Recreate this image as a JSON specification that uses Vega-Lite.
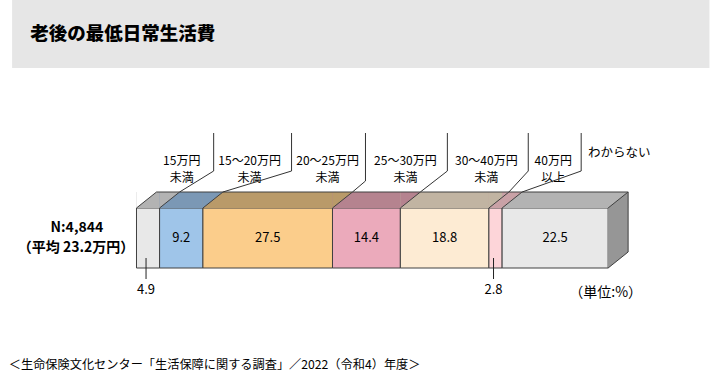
{
  "$schema": "https://vega.github.io/schema/vega-lite/v6.json",
  "width": 710,
  "height": 382,
  "autosize": {"type": "fit", "contains": "padding"},
  "padding": 0,
  "background": "white",
  "config": {
    "view": {"stroke": null},
    "axis": {"disable": true},
    "legend": {"disable": true},
    "text": {"font": "Noto Sans CJK JP", "color": "#000000"}
  },
  "data": {
    "values": [
      {"order": 1, "category": "15万円未満", "label": "15万円\n未満", "value": 4.9},
      {"order": 2, "category": "15～20万円未満", "label": "15～20万円\n未満", "value": 9.2},
      {"order": 3, "category": "20～25万円未満", "label": "20～25万円\n未満", "value": 27.5},
      {"order": 4, "category": "25～30万円未満", "label": "25～30万円\n未満", "value": 14.4},
      {"order": 5, "category": "30～40万円未満", "label": "30～40万円\n未満", "value": 18.8},
      {"order": 6, "category": "40万円以上", "label": "40万円\n以上", "value": 2.8},
      {"order": 7, "category": "わからない", "label": "わからない", "value": 22.5}
    ]
  },
  "transform": [
    {"stack": "value", "groupby": [], "sort": [{"field": "order", "order": "ascending"}], "as": ["start", "end"]}
  ],
  "layer": [
    {
      "transform": [{"filter": "datum.order == 1"}],
      "mark": {"type": "rect", "color": "#e6e6e6"},
      "encoding": {
        "x": {"datum": -26.4, "type": "quantitative", "scale": {"domain": [-28.97, 121.51], "nice": false, "zero": false}, "axis": null},
        "x2": {"datum": 121.6},
        "y": {"datum": 0, "type": "quantitative", "scale": {"domain": [0, 382], "reverse": true, "nice": false, "zero": false}, "axis": null},
        "y2": {"datum": 68}
      }
    },
    {
      "transform": [{"filter": "datum.order == 1"}],
      "mark": {"type": "text", "align": "left", "baseline": "middle", "fontSize": 18.5, "fontWeight": 900, "color": "#000000"},
      "encoding": {
        "x": {"datum": -22.55, "type": "quantitative"},
        "y": {"datum": 34, "type": "quantitative"},
        "text": {"value": "老後の最低日常生活費"}
      }
    },
    {
      "mark": {"type": "rect", "stroke": "#404040", "strokeWidth": 1},
      "encoding": {
        "x": {"field": "start", "type": "quantitative"},
        "x2": {"field": "end"},
        "y": {"datum": 208, "type": "quantitative"},
        "y2": {"datum": 268},
        "color": {
          "field": "category", "type": "nominal", "legend": null,
          "scale": {
            "domain": ["15万円未満", "15～20万円未満", "20～25万円未満", "25～30万円未満", "30～40万円未満", "40万円以上", "わからない"],
            "range": ["#e8e8e8", "#9fc5e9", "#fbcd8b", "#ebaabb", "#fdebd3", "#fdd5d9", "#e8e8e8"]
          }
        }
      }
    },
    {
      "mark": {"type": "rect", "x2Offset": 20},
      "encoding": {
        "x": {"field": "start", "type": "quantitative"},
        "x2": {"field": "end"},
        "y": {"datum": 192, "type": "quantitative"},
        "y2": {"datum": 208},
        "fill": {
          "field": "category", "type": "nominal", "legend": null,
          "scale": {
            "domain": ["15万円未満", "15～20万円未満", "20～25万円未満", "25～30万円未満", "30～40万円未満", "40万円以上", "わからない"],
            "range": ["#b3b3b3", "#7b98b5", "#b99a69", "#b5838f", "#c1b4a2", "#c9a1a6", "#b3b3b3"]
          }
        }
      }
    },
    {
      "transform": [{"filter": "datum.order < 7"}],
      "mark": {"type": "point", "shape": "M0,0L2,0L0,1.6Z", "size": 400, "filled": true, "opacity": 1, "strokeWidth": 0},
      "encoding": {
        "x": {"field": "end", "type": "quantitative"},
        "y": {"datum": 192, "type": "quantitative"},
        "fill": {"field": "category", "type": "nominal", "legend": null}
      }
    },
    {
      "transform": [{"filter": "datum.order == 1"}],
      "mark": {"type": "point", "shape": "M0,0L2,0L0,1.6Z", "size": 400, "filled": true, "opacity": 1, "strokeWidth": 0, "fill": "#ffffff"},
      "encoding": {
        "x": {"field": "start", "type": "quantitative"},
        "y": {"datum": 192, "type": "quantitative"}
      }
    },
    {
      "transform": [{"filter": "datum.order == 7"}],
      "layer": [
        {
          "mark": {"type": "rect", "x2Offset": 20, "fill": "#969696"},
          "encoding": {
            "x": {"field": "end", "type": "quantitative"},
            "x2": {"field": "end"},
            "y": {"datum": 208, "type": "quantitative"},
            "y2": {"datum": 252}
          }
        },
        {
          "mark": {"type": "point", "shape": "M2,0L2,1.6L0,1.6Z", "size": 400, "filled": true, "opacity": 1, "strokeWidth": 0, "fill": "#969696"},
          "encoding": {
            "x": {"field": "end", "type": "quantitative"},
            "y": {"datum": 192, "type": "quantitative"}
          }
        },
        {
          "mark": {"type": "point", "shape": "M0,0L2,0L0,1.6Z", "size": 400, "filled": true, "opacity": 1, "strokeWidth": 0, "fill": "#969696"},
          "encoding": {
            "x": {"field": "end", "type": "quantitative"},
            "y": {"datum": 252, "type": "quantitative"}
          }
        },
        {
          "mark": {"type": "rule", "x2Offset": 20, "color": "#404040", "strokeWidth": 1},
          "encoding": {
            "x": {"field": "end", "type": "quantitative"},
            "x2": {"field": "end"},
            "y": {"datum": 208, "type": "quantitative"},
            "y2": {"datum": 192}
          }
        },
        {
          "mark": {"type": "rule", "xOffset": 20, "color": "#404040", "strokeWidth": 1},
          "encoding": {
            "x": {"field": "end", "type": "quantitative"},
            "y": {"datum": 192, "type": "quantitative"},
            "y2": {"datum": 252}
          }
        },
        {
          "mark": {"type": "rule", "x2Offset": 20, "color": "#404040", "strokeWidth": 1},
          "encoding": {
            "x": {"field": "end", "type": "quantitative"},
            "x2": {"field": "end"},
            "y": {"datum": 268, "type": "quantitative"},
            "y2": {"datum": 252}
          }
        }
      ]
    },
    {
      "mark": {"type": "rule", "xOffset": 20, "x2Offset": 20, "color": "#404040", "strokeWidth": 1},
      "encoding": {
        "x": {"field": "start", "type": "quantitative"},
        "x2": {"field": "end"},
        "y": {"datum": 192, "type": "quantitative"}
      }
    },
    {
      "mark": {"type": "rule", "x2Offset": 20, "color": "#404040", "strokeWidth": 1},
      "encoding": {
        "x": {"field": "start", "type": "quantitative"},
        "x2": {"field": "start"},
        "y": {"datum": 208, "type": "quantitative"},
        "y2": {"datum": 192}
      }
    },
    {
      "mark": {"type": "text", "align": "center", "baseline": "middle", "fontSize": 13},
      "encoding": {
        "x": {"field": "value", "type": "quantitative", "stack": "zero", "bandPosition": 0.5},
        "order": {"field": "order", "type": "quantitative"},
        "detail": {"field": "category", "type": "nominal"},
        "y": {"datum": 238, "type": "quantitative"},
        "text": {"field": "value", "type": "quantitative", "format": ".1f", "condition": {"test": "datum.value < 5", "value": ""}}
      }
    },
    {
      "mark": {"type": "text", "align": "center", "baseline": "middle", "fontSize": 13, "dx": -2},
      "encoding": {
        "x": {"field": "value", "type": "quantitative", "stack": "zero", "bandPosition": 0.5},
        "order": {"field": "order", "type": "quantitative"},
        "detail": {"field": "category", "type": "nominal"},
        "y": {"datum": 290, "type": "quantitative"},
        "text": {"field": "value", "type": "quantitative", "format": ".1f", "condition": {"test": "datum.value >= 5", "value": ""}}
      }
    },
    {
      "mark": {"type": "point", "shape": "M0,-1L0,1", "size": 441, "filled": false, "strokeWidth": 1, "xOffset": -2, "color": "#222222"},
      "encoding": {
        "x": {"field": "value", "type": "quantitative", "stack": "zero", "bandPosition": 0.5},
        "order": {"field": "order", "type": "quantitative"},
        "detail": {"field": "category", "type": "nominal"},
        "y": {"datum": 268.5, "type": "quantitative"},
        "opacity": {"condition": {"test": "datum.value < 5", "value": 1}, "value": 0}
      }
    },
    {
      "transform": [{"filter": "datum.order == 1"}],
      "layer": [
        {
          "mark": {"type": "text", "align": "center", "baseline": "middle", "fontSize": 14, "fontWeight": "bold"},
          "encoding": {"x": {"datum": -12.65, "type": "quantitative"}, "y": {"datum": 228, "type": "quantitative"}, "text": {"value": "N:4,844"}}
        },
        {
          "mark": {"type": "text", "align": "center", "baseline": "middle", "fontSize": 14, "fontWeight": "bold"},
          "encoding": {"x": {"datum": -12.85, "type": "quantitative"}, "y": {"datum": 248, "type": "quantitative"}, "text": {"value": "（平均 23.2万円）"}}
        },
        {
          "mark": {"type": "text", "align": "center", "baseline": "middle", "fontSize": 14},
          "encoding": {"x": {"datum": 99.58, "type": "quantitative"}, "y": {"datum": 293, "type": "quantitative"}, "text": {"value": "（単位:%）"}}
        },
        {
          "mark": {"type": "text", "align": "left", "baseline": "middle", "fontSize": 12.2},
          "encoding": {"x": {"datum": -27.1, "type": "quantitative"}, "y": {"datum": 364.5, "type": "quantitative"}, "text": {"value": "＜生命保険文化センター「生活保障に関する調査」／2022（令和4）年度＞"}}
        }
      ]
    },
    {
      "transform": [{"filter": "datum.order == 1"}],
      "layer": [
        {"mark": {"type": "text", "align": "center", "baseline": "middle", "fontSize": 12, "lineBreak": "\n", "lineHeight": 17.5}, "encoding": {"x": {"datum": 9.6, "type": "quantitative"}, "y": {"datum": 160.5, "type": "quantitative"}, "text": {"field": "label"}}},
        {"mark": {"type": "rule", "color": "#333333"}, "encoding": {"x": {"datum": 16.38, "type": "quantitative"}, "y": {"datum": 133, "type": "quantitative"}, "y2": {"datum": 171}}},
        {"mark": {"type": "rule", "color": "#333333", "xOffset": 20}, "encoding": {"x": {"field": "end", "type": "quantitative"}, "x2": {"datum": 16.38}, "y": {"datum": 192, "type": "quantitative"}, "y2": {"datum": 171}}}
      ]
    },
    {
      "transform": [{"filter": "datum.order == 2"}],
      "layer": [
        {"mark": {"type": "text", "align": "center", "baseline": "middle", "fontSize": 12, "lineBreak": "\n", "lineHeight": 17.5}, "encoding": {"x": {"datum": 24.01, "type": "quantitative"}, "y": {"datum": 160.5, "type": "quantitative"}, "text": {"field": "label"}}},
        {"mark": {"type": "rule", "color": "#333333"}, "encoding": {"x": {"datum": 32.91, "type": "quantitative"}, "y": {"datum": 133, "type": "quantitative"}, "y2": {"datum": 171}}},
        {"mark": {"type": "rule", "color": "#333333", "xOffset": 20}, "encoding": {"x": {"field": "end", "type": "quantitative"}, "x2": {"datum": 32.91}, "y": {"datum": 192, "type": "quantitative"}, "y2": {"datum": 171}}}
      ]
    },
    {
      "transform": [{"filter": "datum.order == 3"}],
      "layer": [
        {"mark": {"type": "text", "align": "center", "baseline": "middle", "fontSize": 12, "lineBreak": "\n", "lineHeight": 17.5}, "encoding": {"x": {"datum": 40.55, "type": "quantitative"}, "y": {"datum": 160.5, "type": "quantitative"}, "text": {"field": "label"}}},
        {"mark": {"type": "rule", "color": "#333333"}, "encoding": {"x": {"datum": 48.6, "type": "quantitative"}, "y": {"datum": 133, "type": "quantitative"}, "y2": {"datum": 181}}},
        {"mark": {"type": "rule", "color": "#333333", "xOffset": 20}, "encoding": {"x": {"field": "end", "type": "quantitative"}, "x2": {"datum": 48.6}, "y": {"datum": 192, "type": "quantitative"}, "y2": {"datum": 181}}}
      ]
    },
    {
      "transform": [{"filter": "datum.order == 4"}],
      "layer": [
        {"mark": {"type": "text", "align": "center", "baseline": "middle", "fontSize": 12, "lineBreak": "\n", "lineHeight": 17.5}, "encoding": {"x": {"datum": 57.08, "type": "quantitative"}, "y": {"datum": 160.5, "type": "quantitative"}, "text": {"field": "label"}}},
        {"mark": {"type": "rule", "color": "#333333"}, "encoding": {"x": {"datum": 65.98, "type": "quantitative"}, "y": {"datum": 133, "type": "quantitative"}, "y2": {"datum": 171}}},
        {"mark": {"type": "rule", "color": "#333333", "xOffset": 20}, "encoding": {"x": {"field": "end", "type": "quantitative"}, "x2": {"datum": 65.98}, "y": {"datum": 192, "type": "quantitative"}, "y2": {"datum": 171}}}
      ]
    },
    {
      "transform": [{"filter": "datum.order == 5"}],
      "layer": [
        {"mark": {"type": "text", "align": "center", "baseline": "middle", "fontSize": 12, "lineBreak": "\n", "lineHeight": 17.5}, "encoding": {"x": {"datum": 74.25, "type": "quantitative"}, "y": {"datum": 160.5, "type": "quantitative"}, "text": {"field": "label"}}},
        {"mark": {"type": "rule", "color": "#333333"}, "encoding": {"x": {"datum": 83.15, "type": "quantitative"}, "y": {"datum": 133, "type": "quantitative"}, "y2": {"datum": 171}}},
        {"mark": {"type": "rule", "color": "#333333", "xOffset": 20}, "encoding": {"x": {"field": "end", "type": "quantitative"}, "x2": {"datum": 83.15}, "y": {"datum": 192, "type": "quantitative"}, "y2": {"datum": 171}}}
      ]
    },
    {
      "transform": [{"filter": "datum.order == 6"}],
      "layer": [
        {"mark": {"type": "text", "align": "center", "baseline": "middle", "fontSize": 12, "lineBreak": "\n", "lineHeight": 17.5}, "encoding": {"x": {"datum": 88.45, "type": "quantitative"}, "y": {"datum": 160.5, "type": "quantitative"}, "text": {"field": "label"}}},
        {"mark": {"type": "rule", "color": "#333333"}, "encoding": {"x": {"datum": 94.38, "type": "quantitative"}, "y": {"datum": 133, "type": "quantitative"}, "y2": {"datum": 171}}},
        {"mark": {"type": "rule", "color": "#333333", "xOffset": 20}, "encoding": {"x": {"field": "end", "type": "quantitative"}, "x2": {"datum": 94.38}, "y": {"datum": 192, "type": "quantitative"}, "y2": {"datum": 171}}}
      ]
    },
    {
      "transform": [{"filter": "datum.order == 7"}],
      "mark": {"type": "text", "align": "center", "baseline": "middle", "fontSize": 12.5},
      "encoding": {"x": {"datum": 102.44, "type": "quantitative"}, "y": {"datum": 152.5, "type": "quantitative"}, "text": {"field": "label"}}
    }
  ]
}
